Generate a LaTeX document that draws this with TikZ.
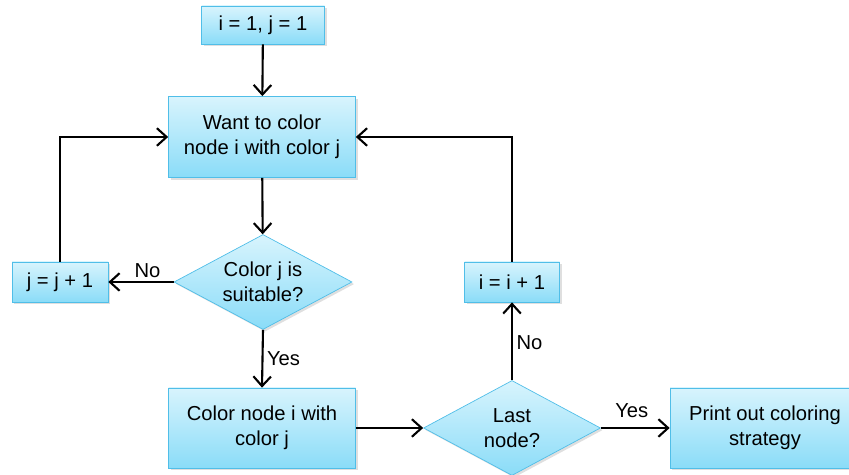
\documentclass[tikz,border=0pt]{standalone}
\usepackage{fontspec}
\setmainfont{Liberation Sans}
\usepackage{tikz}
\usetikzlibrary{arrows.meta,shapes.geometric,shadows}
\definecolor{fctop}{RGB}{216,244,253}
\definecolor{fcbot}{RGB}{138,220,248}
\definecolor{fcline}{RGB}{80,190,232}
\tikzset{
  procbox/.style={draw=fcline, thin, top color=fctop, bottom color=fcbot, align=center,
    drop shadow={shadow xshift=1.2pt, shadow yshift=-1.2pt, opacity=0.25}, inner sep=3pt},
  askbox/.style={procbox, diamond, aspect=1.9, inner sep=0pt},
  flow/.style={-{Straight Barb[length=5.5pt,width=10pt]}, line width=1.2pt},
  lbl/.style={font=\fontsize{11.5}{13}\selectfont, inner sep=2pt},
}

\begin{document}
\begin{tikzpicture}[x=0.02cm,y=-0.02cm,font=\fontsize{11.5}{14}\selectfont]
  \useasboundingbox (0,0) rectangle (849,475);
  % boxes
  \node[procbox, minimum width=123*0.02cm, minimum height=38*0.02cm] (start) at (263,25) {i = 1, j = 1};
  \node[procbox, minimum width=187*0.02cm, minimum height=81*0.02cm] (want) at (262,137) {Want to color\\node i with color j};
  \node[askbox, minimum width=178*0.02cm, minimum height=95*0.02cm] (suit) at (263,282) {Color j is\\suitable?};
  \node[procbox, minimum width=96*0.02cm, minimum height=40*0.02cm] (jinc) at (60,282) {j = j + 1};
  \node[procbox, minimum width=187*0.02cm, minimum height=80*0.02cm] (paint) at (262,428) {Color node i with\\color j};
  \node[askbox, minimum width=177*0.02cm, minimum height=95*0.02cm] (last) at (512,428) {Last\\node?};
  \node[procbox, minimum width=95*0.02cm, minimum height=40*0.02cm] (iinc) at (512,282) {i = i + 1};
  \node[procbox, minimum width=190*0.02cm, minimum height=80*0.02cm] (print) at (765,428) {Print out coloring\\strategy};
  % connectors
  \draw[flow] (start) -- (want);
  \draw[flow] (want) -- (suit);
  \draw[flow] (suit.west) -- node[lbl, above, pos=0.4] {No} (jinc.east);
  \draw[flow] (jinc.north) |- (want.west);
  \draw[flow] (suit.south) -- node[lbl, right] {Yes} (paint.north);
  \draw[flow] (paint.east) -- (last.west);
  \draw[flow] (last.east) -- node[lbl, above=3pt, pos=0.45] {Yes} (print.west);
  \draw[flow] (last.north) -- node[lbl, right, pos=0.48] {No} (iinc.south);
  \draw[flow] (iinc.north) |- (want.east);
\end{tikzpicture}
\end{document}
